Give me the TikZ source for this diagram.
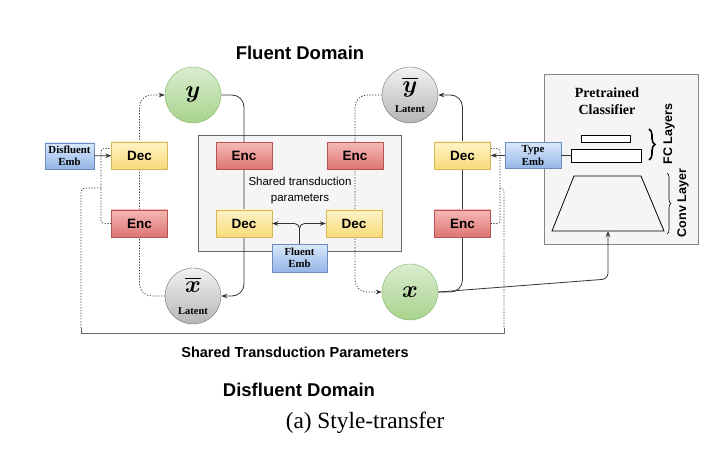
\RequirePackage{fix-cm}
\documentclass[tikz,border=0pt]{standalone}
\usepackage{amsmath}
\usepackage{fontspec}
\setmainfont{Liberation Serif}
\setsansfont{Liberation Sans}
\usetikzlibrary{arrows.meta,decorations.pathreplacing}

\definecolor{enctop}{HTML}{F5B8B5}
\definecolor{encbot}{HTML}{DE7471}
\definecolor{encline}{HTML}{B85450}
\definecolor{dectop}{HTML}{FFF4C6}
\definecolor{decbot}{HTML}{F8DA7A}
\definecolor{decline}{HTML}{D6B656}
\definecolor{embtop}{HTML}{DAE8FC}
\definecolor{embbot}{HTML}{93B5E6}
\definecolor{embline}{HTML}{6C8EBF}
\definecolor{obstop}{HTML}{DAEDD0}
\definecolor{obsbot}{HTML}{A8D38C}
\definecolor{obsline}{HTML}{82B366}
\definecolor{lattop}{HTML}{F2F2F2}
\definecolor{latbot}{HTML}{B5B5B5}
\definecolor{latline}{HTML}{707070}
\definecolor{panel}{HTML}{F5F5F5}
\definecolor{panelline}{HTML}{666666}
\definecolor{wirecol}{HTML}{333333}

\pgfdeclarelayer{back}
\pgfdeclarelayer{wires}
\pgfsetlayers{back,wires,main}

\tikzset{
  encbox/.style={draw=encline, top color=enctop, bottom color=encbot,
    minimum width=56pt, minimum height=27pt, inner sep=0pt,
    font=\sffamily\bfseries\fontsize{13.5}{13.5}\selectfont},
  decbox/.style={encbox, draw=decline, top color=dectop, bottom color=decbot},
  embbox/.style={draw=embline, top color=embtop, bottom color=embbot,
    minimum width=56pt, minimum height=27pt, inner sep=1pt, align=center,
    font=\bfseries\fontsize{10.8}{12.5}\selectfont},
  obs/.style={circle, draw=obsline, top color=obstop, bottom color=obsbot,
    minimum size=56pt, inner sep=0pt, font=\fontsize{24}{24}\selectfont},
  lat/.style={obs, draw=latline, top color=lattop, bottom color=latbot, align=center},
  fcbox/.style={draw, fill=white, inner sep=0pt},
  wire/.style={draw=wirecol, line width=0.8pt},
  dots/.style={draw=wirecol, line width=0.7pt, dash pattern=on 1.2pt off 1.6pt},
  heading/.style={font=\sffamily\bfseries\fontsize{18.5}{20}\selectfont}
}

\begin{document}
\begin{tikzpicture}[x=1pt,y=-1pt,>={Stealth[length=6pt,width=4.5pt]}]
\useasboundingbox (0,0) rectangle (720,457);

% latent and observed sentences
\node[obs] (y) at (193,95) {$\boldsymbol{y}$};
\node[lat] (xbar) at (193,296) {$\overline{\boldsymbol{x}}$\\[-2pt]{\bfseries\fontsize{10.5}{11}\selectfont Latent}};
\node[lat] (ybar) at (410,95) {$\overline{\boldsymbol{y}}$\\[-4pt]{\bfseries\fontsize{10.5}{11}\selectfont Latent}};
\node[obs] (x) at (410,292) {$\boldsymbol{x}$};

% left branch
\node[decbox] (decL) at (139.5,155.5) {Dec};
\node[encbox] (encL) at (139.5,223.5) {Enc};
\node[embbox, minimum width=49pt, minimum height=26pt] (disemb) at (69.5,156) {Disfluent\\Emb};

% shared block
\node[encbox] (encA) at (244,156) {Enc};
\node[encbox] (encB) at (355,156) {Enc};
\node[decbox] (decA) at (244,223.5) {Dec};
\node[decbox] (decB) at (354,223.5) {Dec};
\node[embbox, minimum width=55pt, minimum height=28pt] (fluemb) at (299.5,258) {Fluent\\Emb};
\node[align=center, font=\sffamily\fontsize{11.5}{16}\selectfont] (sharedtxt) at (300,191) {Shared transduction\\parameters};

% right branch
\node[decbox] (decR) at (462.5,155.5) {Dec};
\node[encbox] (encR) at (462.5,223.5) {Enc};
\node[embbox, minimum height=26pt] (typeemb) at (533,155.5) {Type\\Emb};

% classifier
\node[align=center, font=\bfseries\fontsize{14}{17}\selectfont] (cls) at (607,101.5) {Pretrained\\Classifier};
\node[fcbox, minimum width=49pt, minimum height=7pt] (fc1) at (605.5,138.5) {};
\node[fcbox, minimum width=70pt, minimum height=13pt] (fc2) at (606,155.5) {};
\draw[line width=0.8pt] (574,176) -- (641,176) -- (664,231) -- (552,231) -- cycle;
\coordinate (convbot) at (608,231);
\coordinate (bend) at (608,279);
\draw[line width=1.6pt, decorate, decoration={brace, amplitude=6pt}] (649,129) -- (649,160);
\draw[line width=0.6pt, decorate, decoration={brace, amplitude=4pt}] (667,173) -- (667,234);
\node[rotate=90, font=\sffamily\bfseries\fontsize{12.5}{13}\selectfont] (fclab) at (669,134) {FC Layers};
\node[rotate=90, font=\sffamily\bfseries\fontsize{12.5}{13}\selectfont] (convlab) at (683,203) {Conv Layer};

% texts
\node[heading] (fluent) at (300,53) {Fluent Domain};
\node[heading] (disfluent) at (299,390) {Disfluent Domain};
\node[font=\sffamily\bfseries\fontsize{14.5}{16}\selectfont] (sharedlab) at (295,352) {Shared Transduction Parameters};
\node[font=\fontsize{23.3}{25}\selectfont] (caption) at (365,423) {(a) Style-transfer};

\coordinate (jl) at (101,188);
\coordinate (jr) at (500,188);
\coordinate (brL) at (81,328);
\coordinate (brR) at (504,328);

\begin{pgfonlayer}{back}
  \draw[draw=panelline, fill=panel, line width=0.8pt] (198,135) rectangle (401,251);
  \draw[draw=panelline!80, fill=panel, line width=0.8pt] (544,74) rectangle (698,244);
\end{pgfonlayer}

\begin{pgfonlayer}{wires}
  \draw[wire, ->, rounded corners=12pt] (y.east) -| (decA.center) |- (xbar.east);
  \draw[dots, ->, rounded corners=12pt] (xbar.west) -| (encL.center) |- (y.west);
  \draw[wire, ->, rounded corners=12pt] (x.east) -| (encR.center) |- (ybar.east);
  \draw[dots, ->, rounded corners=12pt] (ybar.west) -| (encB.center) |- (x.west);
  \draw[dots, rounded corners=3pt] (encL.west) -| (jl) |- ([yshift=7pt]decL.west);
  \draw[dots, rounded corners=4pt] (jl) -| (brL);
  \draw[dots, rounded corners=3pt] ([yshift=7pt]decR.east) -| (jr) |- (encR.east);
  \draw[dots, rounded corners=4pt] (jr) -| (brR);
  \draw[wire, ->, rounded corners=6pt] (x.east) -- (bend) -- (convbot);
\end{pgfonlayer}

\draw[wire, ->] (disemb) -- (decL);
\draw[wire, ->] (typeemb) -- (decR);
\draw[wire] (typeemb) -- (fc2);
\draw[wire, ->, rounded corners=5pt] (fluemb.north) |- (decA.east);
\draw[wire, ->, rounded corners=5pt] (fluemb.north) |- (decB.west);
\draw[draw=panelline, line width=1pt] (brL) -- ++(0,5) -| (brR);
\end{tikzpicture}
\end{document}
